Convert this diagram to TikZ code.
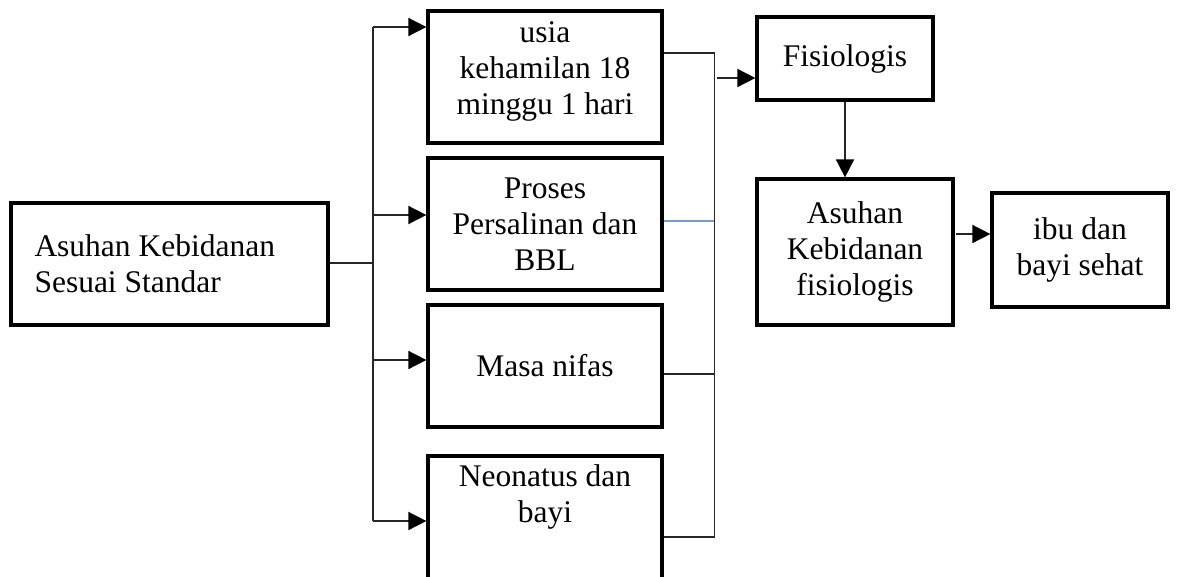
\documentclass[tikz,border=0pt]{standalone}
\usepackage{fontspec}
\setmainfont{Liberation Serif}
\usetikzlibrary{arrows.meta,calc}
\definecolor{linkblue}{HTML}{7A98D4}
\tikzset{
  box/.style={draw=black, line width=3.2pt, inner sep=0pt, align=center},
  txt/.style={inner sep=0pt, align=center},
  conn/.style={draw=black!85, line width=1.6pt},
  arr/.style={conn, -{Triangle[length=18pt,width=18pt,color=black]}},
}
\begin{document}
\begin{tikzpicture}[x=1pt,y=-1pt, font=\fontsize{31.5}{36}\selectfont]
\useasboundingbox (0,0) rectangle (1177,576);
% boxes
\node[box, minimum width=317pt, minimum height=122pt, text width=270pt, align=flush left] (lb) at (169.5,264) {Asuhan Kebidanan\\Sesuai Standar};
\node[box, minimum width=234pt, minimum height=132pt] (b1) at (545,77) {};
\node[txt] (t1) at (545,71) {usia\\kehamilan 18\\minggu 1 hari};
\node[box, minimum width=234pt, minimum height=132pt] (b2) at (545,224) {Proses\\Persalinan dan\\BBL};
\node[box, minimum width=234pt, minimum height=122pt] (b3) at (545,366) {Masa nifas};
\node[box, minimum width=234pt, minimum height=160pt] (b4) at (545,536) {};
\node[txt] (t4) at (545,497) {Neonatus dan\\bayi};
\node[box, minimum width=176pt, minimum height=83pt] (fis) at (845,58.5) {Fisiologis};
\node[box, minimum width=196pt, minimum height=146pt] (ak) at (855,252) {Asuhan\\Kebidanan\\fisiologis};
\node[box, minimum width=176pt, minimum height=114pt] (ibu) at (1080,250) {ibu dan\\bayi sehat};
% left spine
\coordinate (s0) at (372.7,263);
\coordinate (s1) at (372.7,27);
\coordinate (s2) at (372.7,215);
\coordinate (s3) at (372.7,360);
\coordinate (s4) at (372.7,521);
\draw[conn] (s0 -| lb.east) -- (s0);
\draw[conn] (s1) -- (s4);
\draw[arr] (s1) -- (s1 -| b1.west);
\draw[arr] (s2) -- (s2 -| b2.west);
\draw[arr] (s3) -- (s3 -| b3.west);
\draw[arr] (s4) -- (s4 -| b4.west);
% right spine
\coordinate (r1) at (714.5,53);
\coordinate (r2) at (714.5,221);
\coordinate (r3) at (714.5,374);
\coordinate (r4) at (714.5,537);
\draw[conn] (r1 -| b1.east) -- (r1);
\draw[draw=linkblue, line width=1.8pt] (r2 -| b2.east) -- (r2);
\draw[conn] (r3 -| b3.east) -- (r3);
\draw[conn] (r4 -| b4.east) -- (r4);
\draw[conn] (r1) -- (r4);
\coordinate (fa) at (717,78);
\draw[arr] (fa) -- (fa -| fis.west);
\draw[arr] (fis.south) -- (fis.south |- ak.north);
\coordinate (ia) at (956,234);
\draw[arr] (ia) -- (ia -| ibu.west);
\end{tikzpicture}
\end{document}
